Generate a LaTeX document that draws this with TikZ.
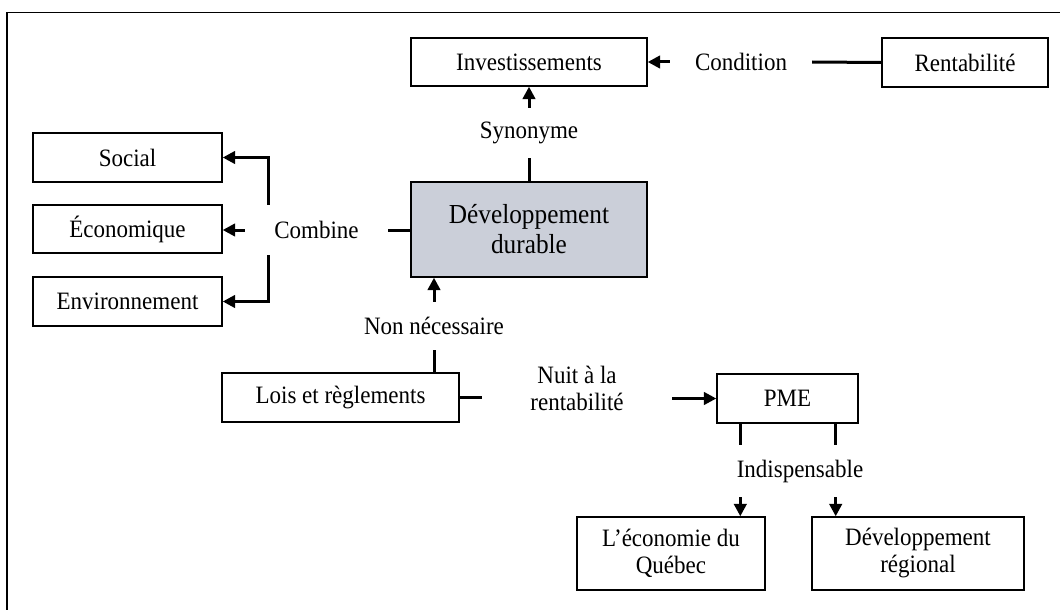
\documentclass[tikz,border=0pt]{standalone}
\usepackage{fontspec}
\setmainfont{Liberation Serif}[FakeStretch=0.92]
\usetikzlibrary{arrows.meta}
\definecolor{ddfill}{RGB}{203,207,217}
\begin{document}
\begin{tikzpicture}[x=1pt,y=-1pt,
  box/.style={draw,line width=1.4pt,minimum height=49pt,inner sep=0pt,
    font=\fontsize{25}{27}\selectfont,align=center},
  lbl/.style={inner sep=0pt,font=\fontsize{25}{27}\selectfont,align=center},
  link/.style={line width=3pt},
  arr/.style={link,-{Triangle[length=12.5pt,width=12.5pt]}},
]
\useasboundingbox (0,0) rectangle (1060,610);
% page frame
\draw[line width=1.4pt] (1060,12.5) -- (7,12.5) -- (7,612);

% top row
\node[box,minimum width=236pt,minimum height=48pt] (inv) at (529,62) {Investissements};
\node[box,minimum width=166pt] (rent) at (965,62.5) {Rentabilité};
\node[lbl,minimum width=142pt] (cond) at (741,62) {Condition};
\draw[arr] (cond.west) -- (inv.east);
\draw[link] (cond.east) -- (rent.west);

% central concept
\node[box,fill=ddfill,minimum width=236pt,minimum height=95pt,
  font=\fontsize{27.5}{30}\selectfont] (dd) at (529,229.5) {Développement\\durable};
\node[lbl,minimum height=50pt] (syn) at (529,133) {Synonyme};
\draw[arr] (syn.north) -- (inv.south);
\draw[link] (syn.south) -- (dd.north);

% three pillars
\node[box,minimum width=189pt] (soc) at (127.5,157.5) {Social};
\node[box,minimum width=189pt,minimum height=48pt] (eco) at (127.5,229) {Économique};
\node[box,minimum width=189pt] (env) at (127.5,301.5) {Environnement};
\node[lbl,minimum width=143pt,minimum height=50pt] (comb) at (316.5,230) {Combine};
\draw[arr] ([xshift=24pt]comb.north west) |- (soc.east);
\draw[arr] (comb.west) -- (comb.west -| eco.east);
\draw[arr] ([xshift=24pt]comb.south west) |- (env.east);
\draw[link] (comb.east) -- (comb.east -| dd.west);

% regulations
\node[lbl,minimum height=48pt] (nn) at (434,326) {Non nécessaire};
\node[box,minimum width=237pt] (lois) at (340.5,397.5) {Lois et règlements};
\draw[arr] (nn.north) -- (nn.north |- dd.south);
\draw[link] (nn.south) -- (nn.south |- lois.north);

\node[lbl,minimum width=190pt] (nuit) at (577,388) {Nuit à la\\rentabilité};
\node[box,minimum width=141pt] (pme) at (787.5,398.5) {PME};
\draw[link] (lois.east) -- (lois.east -| nuit.west);
\draw[arr] (nuit.east |- pme.west) -- (pme.west);

% PME outcomes
\node[lbl,minimum height=52pt] (ind) at (800,471) {Indispensable};
\node[box,minimum width=188pt,minimum height=73pt] (queb) at (671,553.5) {L’économie du\\Québec};
\node[box,minimum width=212pt,minimum height=73pt] (reg) at (918,553.5) {Développement\\régional};
\draw[link] ([xshift=24pt]pme.south west) -- ([xshift=24pt]pme.south west |- ind.north);
\draw[arr] ([xshift=24pt]pme.south west |- ind.south) -- ([xshift=24pt]pme.south west |- queb.north);
\draw[link] ([xshift=-23pt]pme.south east) -- ([xshift=-23pt]pme.south east |- ind.north);
\draw[arr] ([xshift=-23pt]pme.south east |- ind.south) -- ([xshift=-23pt]pme.south east |- reg.north);
\end{tikzpicture}
\end{document}
